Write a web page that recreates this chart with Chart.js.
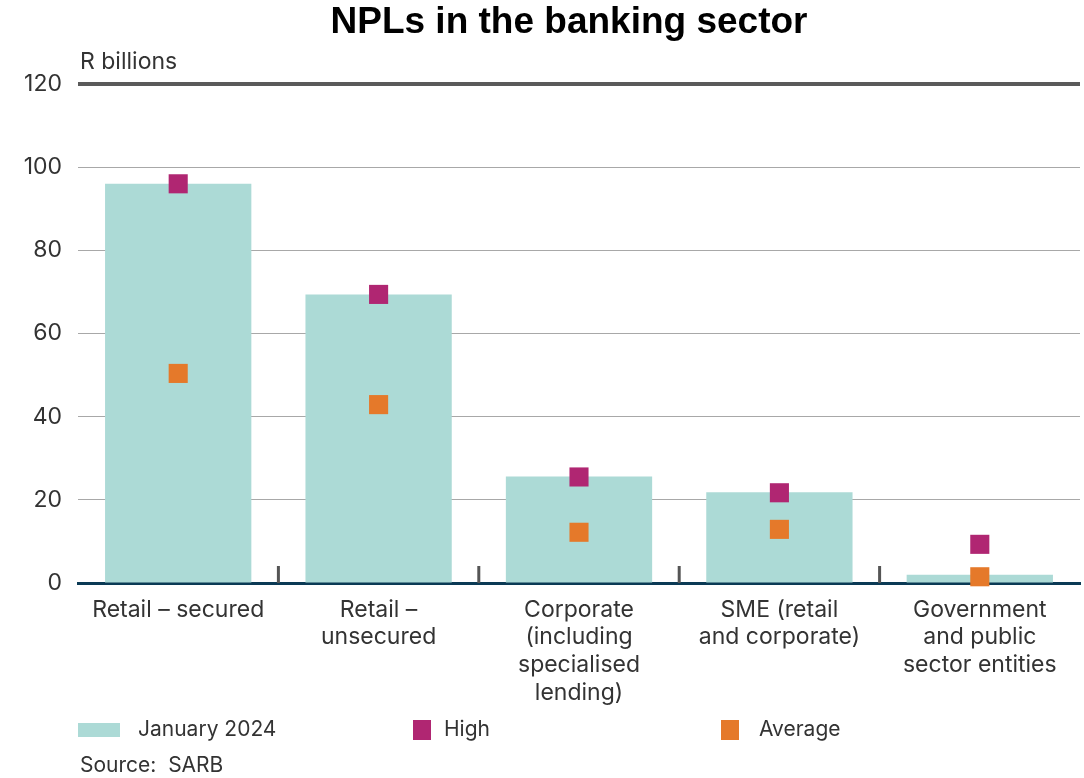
<!DOCTYPE html>
<html>
<head>
<meta charset="utf-8">
<title>NPLs in the banking sector</title>
<script src="https://cdn.jsdelivr.net/npm/chart.js@4"></script>
<style>
  html, body { margin: 0; background: #fff; overflow: hidden; }
  #wrap { position: relative; width: 1084px; height: 778px; font-family: Inter, "Open Sans", sans-serif; color: #333; }
  #wrap canvas { position: absolute; left: 0; top: 0; }
  .title { position: absolute; left: 0; width: 1138px; top: 0px; text-align: center; font: bold 37px "Liberation Sans", Arial, sans-serif; color: #000; }
  .unit { position: absolute; left: 80px; top: 47px; font-size: 23px; }
  .legend { position: absolute; top: 715px; font-size: 21px; line-height: 28px; }
  .legend span.sw { display: inline-block; vertical-align: middle; margin-right: 18px; }
  .source { position: absolute; left: 80px; top: 753px; font-size: 21px; line-height: 24px; }
</style>
</head>
<body>
<div id="wrap">
  <canvas id="nplChart"></canvas>
  <div class="title">NPLs in the banking sector</div>
  <div class="unit">R billions</div>
  <div class="legend" style="left:78px"><span class="sw" style="width:42px;height:14px;background:#acdad6"></span>January 2024</div>
  <div class="legend" style="left:413px"><span class="sw" style="width:18px;height:20px;background:#b02672;margin-right:13px"></span>High</div>
  <div class="legend" style="left:721px"><span class="sw" style="width:18px;height:20px;background:#e5792a;margin-right:20px"></span>Average</div>
  <div class="source">Source:&nbsp; SARB</div>
</div>
<script>
// ===============================
// Data
// ===============================
const categories = [
    ['Retail \u2013 secured'],
    ['Retail \u2013', 'unsecured'],
    ['Corporate', '(including', 'specialised', 'lending)'],
    ['SME (retail', 'and corporate)'],
    ['Government', 'and public', 'sector entities']
];
const jan2024 = [96, 69.4, 25.6, 21.8, 2.0];
const high = [96, 69.4, 25.5, 21.7, 9.3];
const average = [50.4, 42.9, 12.2, 12.9, 1.5];
const yTicks = [0, 20, 40, 60, 80, 100, 120];

// ===============================
// Small tick marks between categories (above the axis)
// ===============================
const betweenTicks = {
    id: 'betweenTicks',
    afterDatasetsDraw(chart) {
        const ctx = chart.ctx;
        const x = chart.scales.x;
        const bottom = chart.chartArea.bottom;
        ctx.save();
        ctx.strokeStyle = '#555';
        ctx.lineWidth = 3;
        for (let i = 0; i < categories.length - 1; i++) {
            const px = (x.getPixelForValue(i) + x.getPixelForValue(i + 1)) / 2;
            ctx.beginPath();
            ctx.moveTo(px, bottom - 17);
            ctx.lineTo(px, bottom);
            ctx.stroke();
        }
        ctx.restore();
    }
};

// ===============================
// Chart
// ===============================
const ctx = document.getElementById('nplChart').getContext('2d');
new Chart(ctx, {
    data: {
        labels: categories,
        datasets: [
            {
                type: 'line',
                label: 'High',
                data: high,
                showLine: false,
                pointStyle: 'rect',
                pointRadius: 13.5,
                pointBorderWidth: 0,
                pointBackgroundColor: '#b02672',
                pointBorderColor: '#b02672',
                clip: false,
                order: 1
            },
            {
                type: 'line',
                label: 'Average',
                data: average,
                showLine: false,
                pointStyle: 'rect',
                pointRadius: 13.5,
                pointBorderWidth: 0,
                pointBackgroundColor: '#e5792a',
                pointBorderColor: '#e5792a',
                clip: false,
                order: 1
            },
            {
                type: 'bar',
                label: 'January 2024',
                data: jan2024,
                backgroundColor: '#acdad6',
                categoryPercentage: 1,
                barPercentage: 0.73,
                order: 3
            }
        ]
    },
    options: {
        responsive: true,
        maintainAspectRatio: false,
        animation: false,
        // no auto padding for the square points, plot runs to ~1080px
        layout: { autoPadding: false, padding: { top: 84, right: 4, left: 0, bottom: 0 } },
        plugins: {
            legend: { display: false },
            tooltip: { enabled: false },
            title: { display: false }
        },
        scales: {
            x: {
                offset: true,
                afterFit(scale) {
                    scale.height = 195;
                    scale.paddingLeft = 0;
                    scale.paddingRight = 0;
                },
                grid: { display: false },
                border: { display: true, color: '#0b3a55', width: 3 },
                ticks: {
                    color: '#333',
                    font: { family: 'Inter', size: 23, lineHeight: 1.2 },
                    padding: 5,
                    maxRotation: 0,
                    autoSkip: false
                }
            },
            y: {
                min: 0,
                max: 120,
                afterFit(scale) { scale.width = 78; },
                afterBuildTicks(scale) { scale.ticks = yTicks.map(v => ({ value: v })); },
                border: { display: false },
                grid: {
                    drawTicks: false,
                    color: c => c.tick.value === 120 ? '#5a5a5a' : (c.tick.value === 0 ? 'rgba(0,0,0,0)' : '#a8a8a8'),
                    lineWidth: c => c.tick.value === 120 ? 4 : 1
                },
                ticks: {
                    color: '#333',
                    font: { family: 'Inter', size: 23 },
                    padding: 16
                }
            }
        }
    },
    plugins: [betweenTicks]
});
</script>
</body>
</html>
